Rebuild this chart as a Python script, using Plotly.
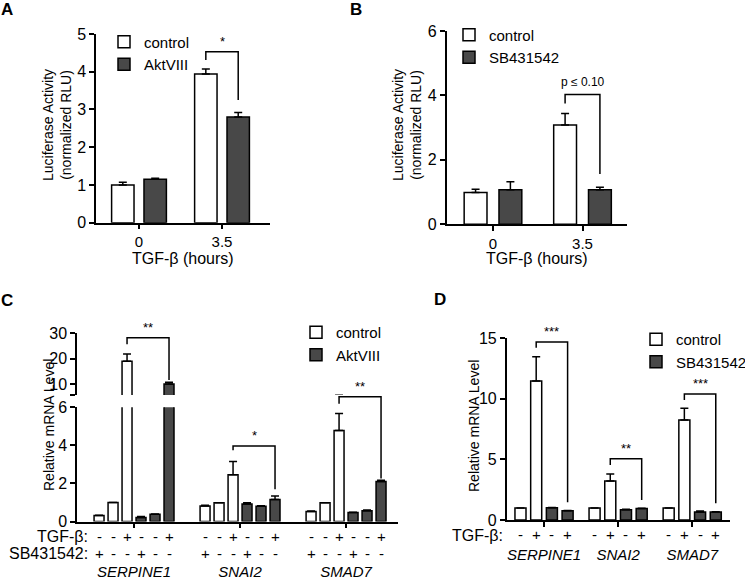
import plotly.graph_objects as go

W, H = 745, 579
FONT = "Liberation Sans"
DARK = "#484848"

# ---------------- data ----------------
# Panel A
a_cats = ["0", "3.5"]
a_control = [1.00, 3.94]
a_control_err = [0.07, 0.13]
a_akt = [1.15, 2.80]
a_akt_err = [0.03, 0.12]

# Panel B
b_cats = ["0", "3.5"]
b_control = [0.99, 3.08]
b_control_err = [0.10, 0.36]
b_sb = [1.07, 1.07]
b_sb_err = [0.25, 0.08]

# Panel C (genes x conditions)
genes = ["SERPINE1", "SNAI2", "SMAD7"]
c_tgf = ["-", "-", "+", "-", "-", "+"]
c_sbrow = ["+", "-", "-", "+", "-", "-"]
c_group = ["control", "control", "control", "AktVIII", "AktVIII", "AktVIII"]
c_ctrl_sb = [0.31, 0.82, 0.52]
c_ctrl_sb_err = [0.02, 0.04, 0.03]
c_ctrl_none = [1.00, 0.99, 0.99]
c_ctrl_none_err = [0.0, 0.0, 0.0]
c_ctrl_tgf = [19.0, 2.45, 4.78]
c_ctrl_tgf_err = [2.9, 0.70, 0.89]
c_akt_sb = [0.21, 0.92, 0.47]
c_akt_sb_err = [0.05, 0.07, 0.02]
c_akt_none = [0.38, 0.80, 0.57]
c_akt_none_err = [0.02, 0.03, 0.03]
c_akt_tgf = [10.1, 1.15, 2.10]
c_akt_tgf_err = [0.7, 0.19, 0.07]

# Panel D
d_tgf = ["-", "+", "-", "+"]
d_group = ["control", "control", "SB431542", "SB431542"]
d_ctrl_none = [0.99, 1.00, 1.00]
d_ctrl_none_err = [0.0, 0.0, 0.0]
d_ctrl_tgf = [11.48, 3.22, 8.26]
d_ctrl_tgf_err = [2.0, 0.58, 0.96]
d_sb_none = [1.02, 0.85, 0.66]
d_sb_none_err = [0.02, 0.03, 0.08]
d_sb_tgf = [0.77, 0.94, 0.66]
d_sb_tgf_err = [0.02, 0.02, 0.02]

# significance labels
a_sig = ["*"]
b_sig = ["p \u2264 0.10"]
c_sig = ["**", "*", "**"]
d_sig = ["***", "**", "***"]

# ---------------- helpers ----------------
def fx(p):
    return p / W

def fy(p):
    return 1 - p / H

AXLINE = dict(showline=True, linecolor="black", linewidth=1.5, ticks="outside",
              ticklen=5, tickwidth=1.5, tickcolor="black", showgrid=False,
              zeroline=False, automargin=False,
              tickfont=dict(family=FONT, size=16, color="black"))

def yax(top, bottom, rng, tickvals, anchor, ticktext=None):
    d = dict(AXLINE, domain=[fy(bottom), fy(top)], range=rng, tickvals=tickvals,
             anchor=anchor)
    if ticktext is not None:
        d["ticktext"] = ticktext
    return d

def xax(left, right, rng, cats, anchor, **kw):
    d = dict(AXLINE, domain=[fx(left), fx(right)], range=rng, type="category",
             categoryorder="array", categoryarray=cats, anchor=anchor)
    d.update(kw)
    return d

fig = go.Figure()

def bar(x, y, err, xa, ya, fill, name, offset, width, legend, showlegend):
    fig.add_trace(go.Bar(
        x=x, y=y, xaxis=xa, yaxis=ya, offset=offset, width=width,
        marker=dict(color=fill, line=dict(color="black", width=1.5)),
        error_y=dict(type="data", array=err, arrayminus=[0] * len(err),
                     symmetric=False, color="black", thickness=1.5, width=4),
        name=name, legend=legend, showlegend=showlegend, hoverinfo="skip"))

# ---------------- Panel A ----------------
bar(a_cats, a_control, a_control_err, "x", "y", "white", "control", -0.33, 0.27, "legend", True)
bar(a_cats, a_akt, a_akt_err, "x", "y", DARK, "AktVIII", 0.06, 0.27, "legend", True)

# ---------------- Panel B ----------------
bar(b_cats, b_control, b_control_err, "x2", "y2", "white", "control", -0.322, 0.255, "legend2", True)
bar(b_cats, b_sb, b_sb_err, "x2", "y2", DARK, "SB431542", 0.067, 0.255, "legend2", True)

# ---------------- Panel C ----------------
c_vals = [c_ctrl_sb, c_ctrl_none, c_ctrl_tgf, c_akt_sb, c_akt_none, c_akt_tgf]
c_errs = [c_ctrl_sb_err, c_ctrl_none_err, c_ctrl_tgf_err, c_akt_sb_err, c_akt_none_err, c_akt_tgf_err]
C_STEP, C_W = 0.132, 0.094
c_center = [(i - 2.5) * C_STEP for i in range(6)]
seen = set()
for i in range(6):
    fill = "white" if c_group[i] == "control" else DARK
    for ya in ("y3", "y4"):
        show = ya == "y3" and c_group[i] not in seen
        if show:
            seen.add(c_group[i])
        bar(genes, c_vals[i], c_errs[i], "x3", ya, fill, c_group[i],
            c_center[i] - C_W / 2, C_W, "legend3", show)
fig.add_trace(go.Scatter(x=[], y=[], xaxis="x3", yaxis="y5", showlegend=False, hoverinfo="skip"))

# ---------------- Panel D ----------------
d_vals = [d_ctrl_none, d_ctrl_tgf, d_sb_none, d_sb_tgf]
d_errs = [d_ctrl_none_err, d_ctrl_tgf_err, d_sb_none_err, d_sb_tgf_err]
D_STEP, D_W = 0.212, 0.149
d_center = [(i - 1.5) * D_STEP for i in range(4)]
seen = set()
for i in range(4):
    fill = "white" if d_group[i] == "control" else DARK
    show = d_group[i] not in seen
    seen.add(d_group[i])
    bar(genes, d_vals[i], d_errs[i], "x4", "y6", fill, d_group[i],
        d_center[i] - D_W / 2, D_W, "legend4", show)

# ---------------- axes ----------------
C_LOW_TOP, C_LOW_BOT = 407.3, 521.5
C_UP_TOP, C_UP_BOT = 333.3, 395.0
c_low_scale = (C_LOW_BOT - C_LOW_TOP) / 6.0
small_tick = dict(family=FONT, size=15, color="black")
gene_tick = dict(family=FONT, size=15, color="black", style="italic")
fig.update_layout(
    xaxis=xax(96, 270, [-0.518, 1.578], a_cats, "y", tickfont=small_tick),
    yaxis=yax(34, 222.7, [0, 5], [0, 1, 2, 3, 4, 5], "x"),
    xaxis2=xax(446.7, 627, [-0.517, 1.497], b_cats, "y2", tickfont=small_tick),
    yaxis2=yax(31, 224.3, [0, 6], [0, 2, 4, 6], "x2"),
    xaxis3=xax(77, 398, [-0.538, 2.49], genes, "y3", ticklabelstandoff=31,
               tickfont=gene_tick),
    yaxis3=yax(C_LOW_TOP, C_LOW_BOT, [0, 6], [0, 2, 4, 6], "x3"),
    yaxis4=yax(C_UP_TOP, C_UP_BOT, [5.8, 30], [5.8, 10, 20, 30], "x3",
               ticktext=["", "10", "20", "30"]),
    yaxis5=dict(domain=[fy(C_LOW_BOT), fy(C_UP_TOP)],
                range=[0, (C_LOW_BOT - C_UP_TOP) / c_low_scale],
                anchor="x3", visible=False, showgrid=False, zeroline=False),
    xaxis4=xax(506.7, 730, [-0.504, 2.51], genes, "y6", ticklabelstandoff=15,
               tickfont=gene_tick),
    yaxis6=yax(338.3, 520, [0, 15], [0, 5, 10, 15], "x4"),
)

# ---------------- legends ----------------
def leg(left, top):
    return dict(x=fx(left), y=fy(top), xanchor="left", yanchor="top",
                bgcolor="rgba(0,0,0,0)", font=dict(family=FONT, size=15, color="black"),
                tracegroupgap=0, itemwidth=30)

fig.update_layout(legend=leg(104, 25.5), legend2=leg(449, 18.5),
                  legend3=leg(296, 316), legend4=leg(636, 323))

# ---------------- brackets ----------------
shapes, annos = [], []

def bracket(xa, ya, xl, xr, top, yl, yr, label, size=13, shift=1):
    shapes.append(dict(type="path", xref=xa, yref=ya,
                       path=f"M {xl},{yl} V {top} H {xr} V {yr}",
                       line=dict(color="black", width=1.5)))
    annos.append(dict(x=(xl + xr) / 2, y=top, xref=xa, yref=ya, text=label,
                      showarrow=False, yanchor="bottom", yshift=shift,
                      font=dict(family=FONT, size=size, color="black")))

bracket("x", "y", 1 - 0.33 + 0.135, 1 + 0.06 + 0.135, 4.53, 4.31, 3.25, a_sig[0])
bracket("x2", "y2", 1 - 0.322 + 0.1275, 1 + 0.067 + 0.1275, 4.03, 3.75, 1.56, b_sig[0], size=12, shift=3)
bracket("x3", "y4", 0 + c_center[2], 0 + c_center[5], 28.3, 25.7, 11.7, c_sig[0])
bracket("x3", "y5", 1 + c_center[2], 1 + c_center[5], 3.97, 3.74, 1.70, c_sig[1])
bracket("x3", "y5", 2 + c_center[2], 2 + c_center[5], 6.56, 6.19, 2.26, c_sig[2])
bracket("x4", "y6", 0 + d_center[1], 0 + d_center[3], 14.7, 14.23, 1.46, d_sig[0])
bracket("x4", "y6", 1 + d_center[1], 1 + d_center[3], 5.06, 4.54, 1.65, d_sig[1])
bracket("x4", "y6", 2 + d_center[1], 2 + d_center[3], 10.4, 9.9, 1.38, d_sig[2])

# ---------------- condition rows ----------------
def txt(x, y, text, xref="paper", size=15, xanchor="center", angle=0, bold=False):
    annos.append(dict(x=x, y=y, xref=xref, yref="paper", text=text, showarrow=False,
                      xanchor=xanchor, yanchor="middle", textangle=angle,
                      font=dict(family=FONT, size=size, color="black",
                                weight="bold" if bold else "normal")))

for g in range(len(genes)):
    for i in range(6):
        txt(g + c_center[i], fy(536.7), c_tgf[i], xref="x3")
        txt(g + c_center[i], fy(553.3), c_sbrow[i], xref="x3")
    for i in range(4):
        txt(g + d_center[i], fy(534.5), d_tgf[i], xref="x4")
txt(fx(90), fy(536.7), "TGF-\u03b2:", size=16, xanchor="right")
txt(fx(90), fy(553.3), "SB431542:", size=16, xanchor="right")
txt(fx(505), fy(535.5), "TGF-\u03b2:", size=16, xanchor="right")

# axis titles
txt(fx(183), fy(258), "TGF-\u03b2 (hours)", size=16)
txt(fx(537), fy(258), "TGF-\u03b2 (hours)", size=16)
txt(fx(57), fy(125), "Luciferase Activity<br>(normalized RLU)", size=14, angle=-90)
txt(fx(407), fy(125), "Luciferase Activity<br>(normalized RLU)", size=14, angle=-90)
txt(fx(49), fy(425), "Relative mRNA Level", size=14, angle=-90)
txt(fx(474), fy(426), "Relative mRNA Level", size=14, angle=-90)

# panel letters
for letter, (px, py) in zip(["A", "B", "C", "D"], [(7, 9), (356, 9), (7, 300), (440, 299)]):
    txt(fx(px), fy(py), letter, size=17, bold=True)

fig.update_layout(
    width=W, height=H, margin=dict(l=0, r=0, t=0, b=0, autoexpand=False),
    paper_bgcolor="white", plot_bgcolor="rgba(0,0,0,0)",
    barmode="overlay", shapes=shapes, annotations=annos,
    font=dict(family=FONT, color="black"),
)

fig.write_html("out.html", config={"displayModeBar": False},
               post_script="document.body.style.margin='0px';document.body.style.overflow='hidden';")
